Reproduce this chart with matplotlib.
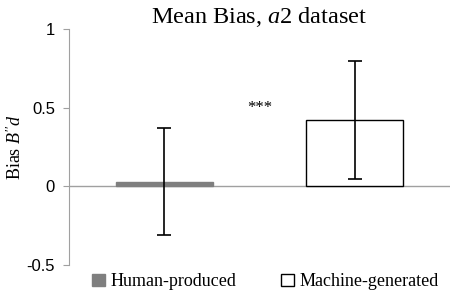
import matplotlib.pyplot as plt
import numpy as np

plt.rcParams['mathtext.fontset'] = 'custom'
plt.rcParams['mathtext.it'] = 'Liberation Serif:italic'
plt.rcParams['mathtext.rm'] = 'Liberation Serif'

# Data
categories = ['Human-produced', 'Machine-generated']
bias_means = [0.03, 0.42]
bias_err = [0.34, 0.375]
bar_faces = ['#7f7f7f', 'white']
bar_edges = ['#7f7f7f', 'black']
y_ticks = [-0.5, 0, 0.5, 1]
y_tick_labels = ['-0.5', '0', '0.5', '1']

fig = plt.figure(figsize=(4.54, 2.92), dpi=100)
ax = fig.add_axes([0.152, 0.0925, 0.839, 0.8082])

x = np.arange(len(categories))
ax.bar(x, bias_means, width=0.51, color=bar_faces, edgecolor=bar_edges,
       linewidth=1.0, zorder=2)
ax.errorbar(x, bias_means, yerr=bias_err, fmt='none', ecolor='black',
            elinewidth=1.2, capsize=5, capthick=1.2, zorder=3)

ax.set_xlim(-0.5, 1.5)
ax.set_ylim(-0.5, 1)

# Excel-like axes: gray y axis, horizontal line at zero
for s in ['top', 'right', 'bottom']:
    ax.spines[s].set_visible(False)
ax.spines['left'].set_color('#a0a0a0')
ax.axhline(0, color='#a0a0a0', linewidth=1.0, zorder=1)
ax.set_xticks([])
ax.set_yticks(y_ticks)
ax.set_yticklabels(y_tick_labels, fontsize=12, family='Liberation Sans')
ax.tick_params(axis='y', direction='out', length=4, color='#a0a0a0', pad=6)

ax.set_title('Mean Bias, $\\mathit{a2}$ dataset', fontsize=17.5, family='Liberation Serif', pad=3)
ax.set_ylabel("Bias $\\mathit{B''d}$", fontsize=13, family='Liberation Serif', labelpad=1)

# significance marker
ax.text(0.5, 0.5, '***', ha='center', va='center', fontsize=12, family='Liberation Serif')

# legend below the plot
handles = [plt.Rectangle((0, 0), 1, 1, facecolor=bar_faces[i], edgecolor=bar_edges[i])
           for i in range(len(categories))]
fig.legend(handles, categories, loc='lower center', ncol=2, frameon=False,
           bbox_to_anchor=(0.585, -0.05), prop={'family': 'Liberation Serif', 'size': 13},
           handlelength=0.7, handleheight=0.7, handletextpad=0.3, columnspacing=2.5)

fig.savefig('out.png', dpi=100)
